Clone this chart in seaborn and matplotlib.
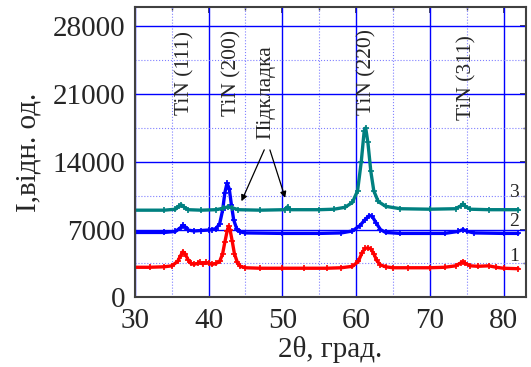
import numpy as np
import pandas as pd
import matplotlib
matplotlib.use("Agg")
import matplotlib.pyplot as plt
import seaborn as sns
from matplotlib.ticker import MultipleLocator

# ---- data ----
x1 = [30, 32, 34, 35, 35.8, 36.2, 36.5, 36.8, 37.2, 37.6, 38.0, 38.5, 38.8, 39.2, 39.6, 40.0,
      40.5, 41.0, 41.5, 41.9, 42.2, 42.5, 42.7, 42.9, 43.2, 43.5, 43.9, 44.3, 45, 47, 50, 53,
      56, 58, 59.5, 60.3, 60.8, 61.2, 61.6, 62.0, 62.4, 62.8, 63.3, 64, 65, 67, 70, 72, 73.5,
      74.2, 74.5, 74.8, 75.5, 76.5, 78, 79, 80, 82]
y1 = [3100, 3100, 3150, 3250, 3700, 4300, 4700, 4500, 3900, 3500, 3400, 3500, 3600, 3450, 3600, 3500,
      3400, 3500, 3700, 4500, 5700, 6800, 7350, 7000, 5800, 4500, 3600, 3200, 3050, 3000, 3000, 3000,
      3000, 3050, 3200, 3700, 4600, 5050, 5100, 5000, 4500, 3800, 3350, 3150, 3050, 3050, 3050, 3100, 3250,
      3550, 3650, 3500, 3250, 3200, 3250, 3100, 3000, 2950]

x2 = [30, 34, 35.5, 36.2, 36.5, 36.8, 37.2, 38, 39, 40, 40.5, 41, 41.5, 41.9, 42.2, 42.5, 42.8,
      43.1, 43.4, 43.8, 44.3, 45, 50, 55, 58, 59.5, 60.5, 61.2, 61.8, 62.2, 62.7, 63.3, 64, 66,
      72, 73.8, 74.5, 75.1, 76, 80, 82]
y2 = [6700, 6700, 6800, 7200, 7450, 7300, 6950, 6850, 6900, 6950, 7000, 7100, 7600, 9000, 10800, 11800, 11200,
      9500, 8000, 7100, 6750, 6650, 6600, 6600, 6650, 6850, 7400, 8000, 8450, 8350, 7700, 7000, 6700, 6600,
      6600, 6800, 7000, 6800, 6650, 6600, 6600]

x3 = [30, 34, 35.5, 36.0, 36.3, 36.7, 37.2, 39, 41, 42, 42.6, 43.2, 44, 47, 50.3, 50.7, 51.1, 55,
      57, 58.5, 59.5, 60.2, 60.7, 61.1, 61.3, 61.6, 62.0, 62.4, 63, 64, 66, 70, 73.5, 74.2, 74.5,
      74.8, 75.5, 78, 82]
y3 = [9000, 9000, 9100, 9450, 9550, 9300, 9050, 9000, 9050, 9200, 9350, 9250, 9050, 9000, 9050, 9350, 9050, 9050,
      9100, 9300, 9800, 11000, 14000, 17200, 17500, 16000, 13000, 11000, 9900, 9400, 9150, 9100, 9150, 9450, 9650,
      9400, 9100, 9050, 9050]

series_names = ["1", "2", "3"]
series_colors = ["#ff0000", "#0000ff", "#008080"]

peak_labels = ["TiN (111)", "TiN (200)", "TiN (220)", "TiN (311)"]
peak_label_x = [36.8, 43.1, 61.5, 75.0]
peak_label_y = [23200, 23200, 23300, 22700]

sub_label = "Підкладка"
sub_label_x = 47.8
sub_label_y = 21200
arrow_tips_x = [44.3, 50.5]
arrow_tips_y = [9660, 10000]
arrow_start_x = [47.7, 48.2]
arrow_start_y = [15500, 15500]

curve_label_x = [81.4, 81.4, 81.4]
curve_label_y = [4250, 7780, 10860]

xticks = [30, 40, 50, 60, 70, 80]
yticks = [0, 7000, 14000, 21000, 28000]

# ---- plotting ----
sns.set_style("white")
plt.rcParams["font.family"] = ["Liberation Serif", "DejaVu Serif"]

fig = plt.figure(figsize=(5.31, 3.67), dpi=100)
ax = fig.add_axes([0.254, 0.19, 0.736, 0.791])

for name, xs, ys, c in zip(series_names, [x1, x2, x3], [y1, y2, y3], series_colors):
    d = pd.DataFrame({"x": xs, "y": ys})
    sns.lineplot(data=d, x="x", y="y", color=c, ax=ax, linewidth=2.4, sort=False,
                 estimator=None, marker="+", markersize=4.5, markeredgewidth=1.2,
                 markeredgecolor=c, markerfacecolor=c)

ax.set_xlim(30, 83)
ax.set_ylim(0, 30000)
ax.set_xticks(xticks)
ax.set_yticks(yticks)
ax.xaxis.set_minor_locator(MultipleLocator(5))
ax.yaxis.set_minor_locator(MultipleLocator(3500))

ax.grid(which="major", color="#0000ff", linewidth=1.0, linestyle="-")
ax.grid(which="minor", color="#8080ff", linewidth=0.8, linestyle=":")
ax.set_axisbelow(True)

for sp in ax.spines.values():
    sp.set_color("#404040")
    sp.set_linewidth(1.5)

ax.tick_params(axis="both", which="major", direction="out", length=5, width=1.3,
               color="#404040", labelsize=21, pad=2)
ax.tick_params(axis="x", which="major", pad=3)
ax.tick_params(axis="both", which="minor", direction="out", length=3, width=1.0, color="#404040")

# inward ticks on top/right
sec_x = ax.secondary_xaxis("top")
sec_x.set_xticks(xticks)
sec_x.xaxis.set_minor_locator(MultipleLocator(5))
sec_x.tick_params(which="major", direction="in", length=4, width=1.3, color="#404040", labeltop=False)
sec_x.tick_params(which="minor", direction="in", length=2.5, width=1.0, color="#404040")
sec_x.spines["top"].set_visible(False)
sec_y = ax.secondary_yaxis("right")
sec_y.set_yticks(yticks)
sec_y.yaxis.set_minor_locator(MultipleLocator(3500))
sec_y.tick_params(which="major", direction="in", length=4, width=1.3, color="#404040", labelright=False)
sec_y.tick_params(which="minor", direction="in", length=2.5, width=1.0, color="#404040")
sec_y.spines["right"].set_visible(False)
ax.tick_params(axis="x", which="both", top=False)
ax.tick_params(axis="y", which="both", right=False)

ax.set_xlabel("2θ, град.", fontsize=21, labelpad=1)
ax.set_ylabel("I,відн. од.", fontsize=21, labelpad=8)

for t, xx, yy in zip(peak_labels, peak_label_x, peak_label_y):
    ax.text(xx, yy, t, rotation=90, ha="center", va="center", fontsize=15.5)

ax.text(sub_label_x, sub_label_y, sub_label, rotation=90, ha="center", va="center", fontsize=15.5)
for sx, sy, tx, ty in zip(arrow_start_x, arrow_start_y, arrow_tips_x, arrow_tips_y):
    ax.annotate("", xy=(tx, ty), xytext=(sx, sy),
                arrowprops=dict(arrowstyle="-|>", color="black", lw=0.9, mutation_scale=9))

for name, xx, yy in zip(series_names, curve_label_x, curve_label_y):
    ax.text(xx, yy, name, ha="center", va="center", fontsize=14)

fig.savefig("out.png", dpi=100)
